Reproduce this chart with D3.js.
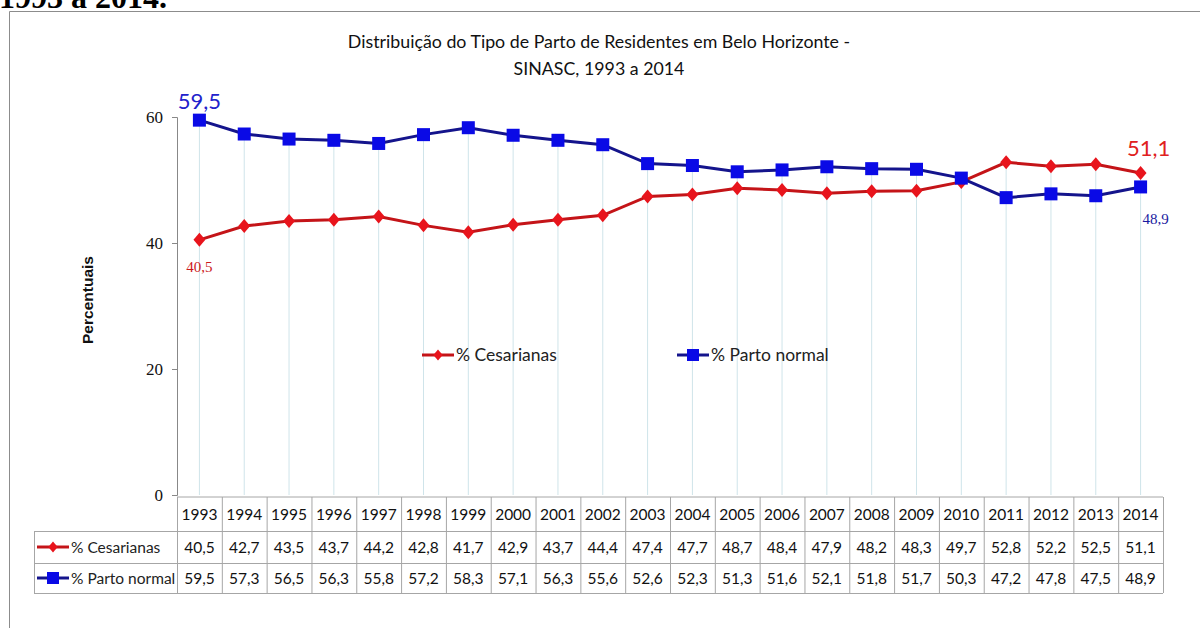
<!DOCTYPE html>
<html><head><meta charset="utf-8">
<script src="https://cdn.jsdelivr.net/npm/d3@7"></script>
<style>body{margin:0;background:#fff}svg{display:block}</style>
</head><body>
<svg id="c" width="1200" height="628"></svg>
<script>
const years = ["1993","1994","1995","1996","1997","1998","1999","2000","2001","2002","2003","2004","2005","2006","2007","2008","2009","2010","2011","2012","2013","2014"];
const cesarianas = [40.5,42.7,43.5,43.7,44.2,42.8,41.7,42.9,43.7,44.4,47.4,47.7,48.7,48.4,47.9,48.2,48.3,49.7,52.8,52.2,52.5,51.1];
const partoNormal = [59.5,57.3,56.5,56.3,55.8,57.2,58.3,57.1,56.3,55.6,52.6,52.3,51.3,51.6,52.1,51.8,51.7,50.3,47.2,47.8,47.5,48.9];
const yTicks = [0,20,40,60];
const seriesNames = ["% Cesarianas","% Parto normal"];
const titleLines = ["Distribuição do Tipo de Parto de Residentes em Belo Horizonte -","SINASC, 1993 a 2014"];

const fmt = v => String(v).replace(".", ",");
const svg = d3.select("#c");
const sans = "Lato, 'Open Sans', sans-serif";
const serif = "'Liberation Serif', 'DejaVu Serif', serif";
const RED_LINE = "#c41418", RED_MK = "#e8141c", BLUE_LINE = "#14148c", BLUE_MK = "#0a0ae6";

// cut-off heading above the chart
svg.append("text").attr("x", -1).attr("y", 8).attr("font-family", serif)
  .attr("font-weight", "bold").attr("font-size", 32).attr("fill", "#000").text("1993 a 2014.");

// frame
svg.append("path").attr("d", "M9.5,640 V11.5 H1210").attr("fill", "none").attr("stroke", "#8c8c8c").attr("stroke-width", 1);

// title
svg.append("g").selectAll("text").data(titleLines).join("text")
  .attr("x", 599).attr("y", (d, i) => 48 + i * 27).attr("text-anchor", "middle")
  .attr("font-family", sans).attr("font-size", 17.8).attr("fill", "#111").text(d => d);

const x = d3.scaleBand().domain(years).range([177, 1163]).padding(0);
const y = d3.scaleLinear().domain([0, 60]).range([495, 117]);
const cx = d => x(d) + x.bandwidth() / 2;

// drop lines
svg.append("g").selectAll("line").data(years).join("line")
  .attr("x1", d => cx(d)).attr("x2", d => cx(d))
  .attr("y1", (d, i) => y(Math.max(cesarianas[i], partoNormal[i]))).attr("y2", y(0))
  .attr("stroke", "#cfe4ea").attr("stroke-width", 1);

// y axis
const yAxis = svg.append("g").attr("transform", "translate(177,0)")
  .call(d3.axisLeft(y).tickValues(yTicks).tickSize(5).tickPadding(9).tickFormat(d => d));
yAxis.select(".domain").attr("stroke", "#888");
yAxis.selectAll(".tick line").attr("stroke", "#888");
yAxis.selectAll(".tick text").attr("font-family", serif).attr("font-size", 17).attr("fill", "#111");

svg.append("text").attr("transform", "translate(93,300) rotate(-90)").attr("text-anchor", "middle")
  .attr("font-family", "'Liberation Sans', Arial, sans-serif").attr("font-weight", "bold")
  .attr("font-size", 14).attr("textLength", 88).attr("lengthAdjust", "spacingAndGlyphs")
  .attr("fill", "#111").text("Percentuais");

// lines
const line = d3.line().x((d, i) => cx(years[i])).y(d => y(d));
svg.append("path").datum(cesarianas).attr("d", line).attr("fill", "none").attr("stroke", RED_LINE).attr("stroke-width", 3);
svg.append("path").datum(partoNormal).attr("d", line).attr("fill", "none").attr("stroke", BLUE_LINE).attr("stroke-width", 3);

function diamondAt(g, px, py, s) {
  g.append("path").attr("transform", `translate(${px},${py})`)
    .attr("d", `M0,${-s} L${s*0.85},0 L0,${s} L${-s*0.85},0 Z`).attr("fill", RED_MK);
}
const mk = svg.append("g");
cesarianas.forEach((v, i) => diamondAt(mk, cx(years[i]), y(v), 7));
svg.append("g").selectAll("rect").data(partoNormal).join("rect")
  .attr("x", (d, i) => cx(years[i]) - 6.5).attr("y", d => y(d) - 6.5)
  .attr("width", 13).attr("height", 13).attr("fill", BLUE_MK);

// data labels
const first = 0, last = years.length - 1;
svg.append("text").attr("x", cx(years[first])).attr("y", y(partoNormal[first]) - 11).attr("text-anchor", "middle")
  .attr("font-family", sans).attr("font-size", 22).attr("fill", "#2222cc").text(fmt(partoNormal[first]));
svg.append("text").attr("x", cx(years[first])).attr("y", y(cesarianas[first]) + 32).attr("text-anchor", "middle")
  .attr("font-family", serif).attr("font-size", 15).attr("fill", "#cc1a1a").text(fmt(cesarianas[first]));
svg.append("text").attr("x", cx(years[last]) + 8).attr("y", y(cesarianas[last]) - 17).attr("text-anchor", "middle")
  .attr("font-family", sans).attr("font-size", 22).attr("fill", "#e02020").text(fmt(cesarianas[last]));
svg.append("text").attr("x", cx(years[last]) + 15).attr("y", y(partoNormal[last]) + 37).attr("text-anchor", "middle")
  .attr("font-family", serif).attr("font-size", 15).attr("fill", "#1a1aa0").text(fmt(partoNormal[last]));

// legend inside plot
function legendItem(g, x0, yc, idx, fs) {
  const col = idx === 0 ? RED_LINE : BLUE_LINE;
  g.append("line").attr("x1", x0).attr("x2", x0 + 32).attr("y1", yc).attr("y2", yc).attr("stroke", col).attr("stroke-width", 3);
  if (idx === 0) diamondAt(g, x0 + 16, yc, 5.5);
  else g.append("rect").attr("x", x0 + 10).attr("y", yc - 6).attr("width", 12).attr("height", 12).attr("fill", BLUE_MK);
  g.append("text").attr("x", x0 + 34).attr("y", yc + 6).attr("font-family", sans).attr("font-size", fs)
    .attr("fill", "#222").text(seriesNames[idx]);
}
const lg = svg.append("g");
legendItem(lg, 422, 355, 0, 17.5);
legendItem(lg, 677, 355, 1, 17.5);

// data table
const rowTop = [497, 531, 563], rowBot = [531, 563, 593];
const tbl = svg.append("g");
const gridCol = "#a6a6a6";
tbl.append("line").attr("x1", 177).attr("x2", 1163).attr("y1", rowTop[0]).attr("y2", rowTop[0]).attr("stroke", gridCol);
[rowBot[0], rowBot[1], rowBot[2]].forEach(yy =>
  tbl.append("line").attr("x1", 34).attr("x2", 1163).attr("y1", yy + .5).attr("y2", yy + .5).attr("stroke", gridCol));
tbl.append("line").attr("x1", 34.5).attr("x2", 34.5).attr("y1", rowBot[0]).attr("y2", rowBot[2]).attr("stroke", gridCol);
years.concat(["end"]).forEach((d, i) => {
  const xx = (i < years.length ? x(d) : x.range()[1]) + .5;
  tbl.append("line").attr("x1", xx).attr("x2", xx).attr("y1", rowTop[0]).attr("y2", rowBot[2]).attr("stroke", gridCol);
});
const cellText = (txt, xx, yy) => tbl.append("text").attr("x", xx).attr("y", yy).attr("text-anchor", "middle")
  .attr("font-family", sans).attr("font-size", 15.5).attr("fill", "#111").text(txt);
years.forEach((d, i) => {
  cellText(d, cx(d), 520);
  cellText(fmt(cesarianas[i]), cx(d), 552.5);
  cellText(fmt(partoNormal[i]), cx(d), 583.5);
});
const tl = svg.append("g");
legendItem(tl, 37, 547, 0, 15.5);
legendItem(tl, 37, 578, 1, 15.5);
</script>
</body></html>
